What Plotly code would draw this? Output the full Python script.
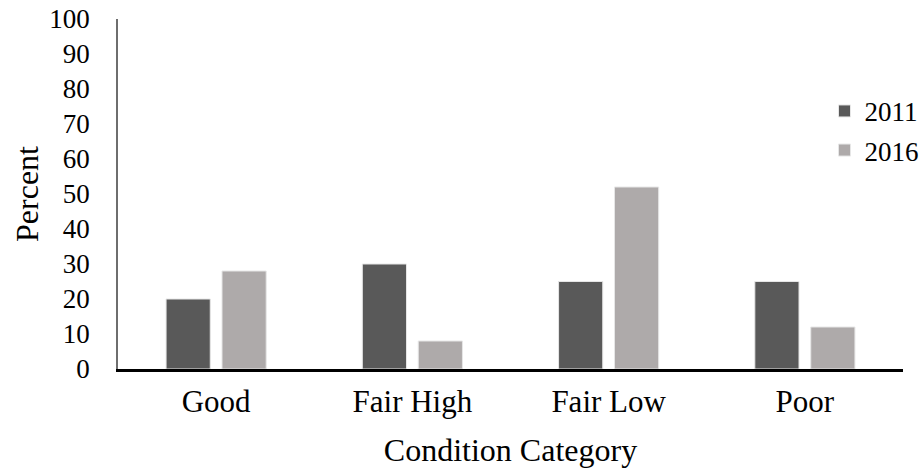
import plotly.graph_objects as go

categories = ["Good", "Fair High", "Fair Low", "Poor"]
values_2011 = [20, 30, 25, 25]
values_2016 = [28, 8, 52, 12]
y_ticks = list(range(0, 101, 10))

FONT = "Liberation Serif"
def f(size):
    return dict(family=FONT, size=size, color="black")

fig = go.Figure()
fig.add_trace(go.Bar(x=categories, y=values_2011, name="2011", legendgroup="a",
                     marker=dict(color="#595959", line=dict(color="#e6e6e6", width=1))))
fig.add_trace(go.Bar(x=categories, y=values_2016, name="2016", legendgroup="b",
                     marker=dict(color="#AEAAAA", line=dict(color="#e6e6e6", width=1))))

fig.update_layout(
    width=924, height=469,
    margin=dict(l=118, r=21, t=19, b=100, autoexpand=False),
    paper_bgcolor="white", plot_bgcolor="white",
    font=f(26),
    barmode="group", bargap=0.43, bargroupgap=0.21,
    legend=dict(x=0.9, y=0.806, xanchor="left", yanchor="top",
                tracegroupgap=1, font=f(27), bgcolor="rgba(0,0,0,0)"),
    xaxis=dict(showline=True, linecolor="black", linewidth=2.5, ticks="",
               tickfont=f(31), ticklabelstandoff=3, automargin=False,
               ticklabeloverflow="allow",
               title=dict(text="Condition Category", font=f(32), standoff=21)),
    yaxis=dict(range=[0, 100], tickvals=y_ticks, showgrid=False, zeroline=False,
               showline=True, linecolor="#6e6e6e", linewidth=1.5, ticks="",
               tickfont=f(27), ticklabelstandoff=21, automargin=False,
               ticklabeloverflow="allow",
               title=dict(text="Percent", font=f(32), standoff=1)),
)

fig.write_html("out.html", config={"displayModeBar": False},
               post_script="document.body.style.margin='0';")
